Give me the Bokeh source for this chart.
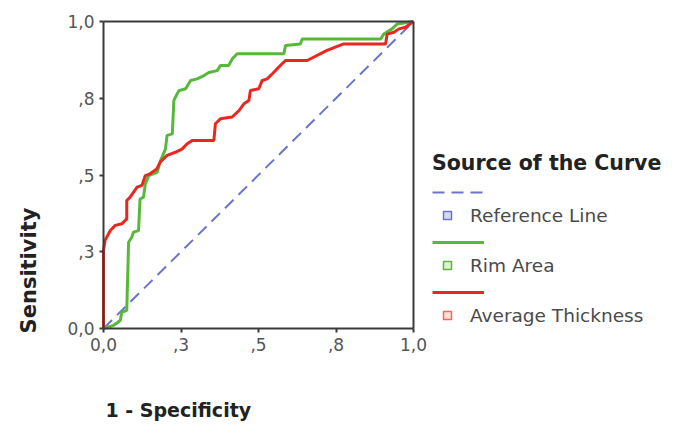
import math
from bokeh.plotting import figure
from bokeh.models import Legend, LegendItem, Label, FixedTicker, LinearAxis
from bokeh.embed import file_html
from bokeh.resources import INLINE

# ---- data ----
ref_fpr = [0.0, 1.0]
ref_tpr = [0.0, 1.0]

rim_fpr = [0.0, 0.032, 0.054, 0.059, 0.075, 0.081, 0.091, 0.097, 0.113, 0.118, 0.129, 0.135,
           0.146, 0.173, 0.184, 0.2, 0.205, 0.222, 0.227, 0.243, 0.265, 0.281, 0.302,
           0.324, 0.34, 0.367, 0.377, 0.404, 0.415, 0.431, 0.582, 0.587, 0.635, 0.641,
           0.894, 0.904, 0.931, 0.947, 1.0]
rim_tpr = [0.0, 0.01, 0.026, 0.053, 0.059, 0.281, 0.297, 0.314, 0.319, 0.422, 0.428, 0.471,
           0.498, 0.509, 0.547, 0.585, 0.629, 0.634, 0.743, 0.775, 0.781, 0.808, 0.813,
           0.824, 0.834, 0.84, 0.857, 0.857, 0.878, 0.895, 0.895, 0.922, 0.927, 0.943,
           0.943, 0.959, 0.976, 0.992, 1.0]

avg_fpr = [0.0, 0.0, 0.005, 0.022, 0.038, 0.059, 0.075, 0.075, 0.086, 0.097, 0.108, 0.124,
           0.135, 0.15, 0.172, 0.183, 0.194, 0.205, 0.232, 0.254, 0.27, 0.286, 0.356,
           0.361, 0.377, 0.415, 0.437, 0.453, 0.469, 0.474, 0.501, 0.512, 0.528, 0.544,
           0.571, 0.587, 0.657, 0.721, 0.775, 0.91, 0.915, 0.937, 0.953, 0.974, 1.0]
avg_tpr = [0.0, 0.254, 0.287, 0.319, 0.336, 0.341, 0.357, 0.417, 0.428, 0.444, 0.46, 0.466,
           0.498, 0.504, 0.52, 0.542, 0.553, 0.564, 0.574, 0.585, 0.602, 0.612, 0.612,
           0.667, 0.683, 0.689, 0.71, 0.732, 0.743, 0.775, 0.781, 0.808, 0.813, 0.829,
           0.857, 0.873, 0.873, 0.906, 0.927, 0.927, 0.959, 0.965, 0.976, 0.981, 1.0]

tick_values = [0.0, 0.25, 0.5, 0.75, 1.0]
tick_labels = ["0,0", ",3", ",5", ",8", "1,0"]

series_names = ["Reference Line", "Rim Area", "Average Thickness"]
legend_title = "Source of the Curve"
x_title = "1 - Specificity"
y_title = "Sensitivity"

# ---- styling / layout ----
BLUE = "#6a74cc"
GREEN = "#58b83a"
RED = "#e8281e"
FONT = "DejaVu Sans"
AXIS_COLOR = "#3a3a3a"
TICK_TEXT = "#555555"

W, H = 678, 425
BOX_L, BOX_R, BOX_T, BOX_B = 103, 413, 21, 328   # plot box in canvas pixels
sx = BOX_R - BOX_L
sy = BOX_B - BOX_T
x_range = (-BOX_L / sx, 1 + (W - BOX_R) / sx)
y_range = (-(H - BOX_B) / sy, 1 + BOX_T / sy)

p = figure(width=W, height=H, output_backend="svg", toolbar_location=None,
           x_range=x_range, y_range=y_range, min_border=0)
p.grid.visible = False
p.outline_line_color = None
p.background_fill_color = "white"
p.border_fill_color = "white"

p.add_layout(LinearAxis(), "above")
p.add_layout(LinearAxis(), "right")

for ax in p.axis:
    ax.fixed_location = 0.0
    ax.bounds = (0, 1)
    ax.ticker = FixedTicker(ticks=tick_values)
    ax.major_label_overrides = {v: t for v, t in zip(tick_values, tick_labels)}
    ax.axis_line_color = AXIS_COLOR
    ax.axis_line_width = 2
    ax.major_tick_line_color = AXIS_COLOR
    ax.major_tick_line_width = 2
    ax.major_tick_in = 0
    ax.major_tick_out = 4
    ax.minor_tick_line_color = None
    ax.major_label_text_font = FONT
    ax.major_label_text_font_size = "17px"
    ax.major_label_text_color = TICK_TEXT

for ax in (p.above[0], p.right[0]):
    ax.fixed_location = 1.0
    ax.major_tick_line_color = None
    ax.major_label_text_color = None

p.yaxis[0].major_label_standoff = 5
p.xaxis[0].major_label_standoff = 6

r_ref = p.line(ref_fpr, ref_tpr, line_color=BLUE, line_width=2, line_dash="12 7")
r_rim = p.line(rim_fpr, rim_tpr, line_color=GREEN, line_width=3)
r_avg = p.line(avg_fpr, avg_tpr, line_color=RED, line_width=3)

nan = float("nan")
m_ref = p.scatter([nan], [nan], marker="square", size=6, line_color=BLUE, fill_color="#d6d9f3", line_width=1.5)
m_rim = p.scatter([nan], [nan], marker="square", size=6, line_color=GREEN, fill_color="#dff2d6", line_width=1.5)
m_avg = p.scatter([nan], [nan], marker="square", size=6, line_color="#f06a5a", fill_color="#fde0dc", line_width=1.5)

common = dict(padding=0, margin=0, border_line_color=None, background_fill_alpha=0,
              label_text_font=FONT, label_text_font_size="18.5px", label_text_color="#4a4a4a",
              label_height=22, glyph_height=22, spacing=28)

leg_lines = Legend(items=[LegendItem(label=" ", renderers=[r]) for r in (r_ref, r_rim, r_avg)],
                   location=(432, H - 303), title=legend_title,
                   title_text_font=FONT, title_text_font_size="20.5px",
                   title_text_font_style="bold", title_text_color="#222222",
                   title_standoff=6, glyph_width=52, **common)
leg_marks = Legend(items=[LegendItem(label=n, renderers=[m]) for n, m in zip(series_names, (m_ref, m_rim, m_avg))],
                   location=(437, H - 326), glyph_width=20, label_standoff=13, **common)
p.add_layout(leg_lines)
p.add_layout(leg_marks)

p.add_layout(Label(x=28, y=H - 270, x_units="screen", y_units="screen", text=y_title,
                   angle=math.pi / 2, text_align="center", text_baseline="middle",
                   text_font=FONT, text_font_size="21px", text_font_style="bold",
                   text_color="#222222"))
p.add_layout(Label(x=105, y=H - 409, x_units="screen", y_units="screen", text=x_title,
                   text_align="left", text_baseline="middle",
                   text_font=FONT, text_font_size="19px", text_font_style="bold",
                   text_color="#222222"))

open("out.html", "w").write(file_html(p, INLINE))
